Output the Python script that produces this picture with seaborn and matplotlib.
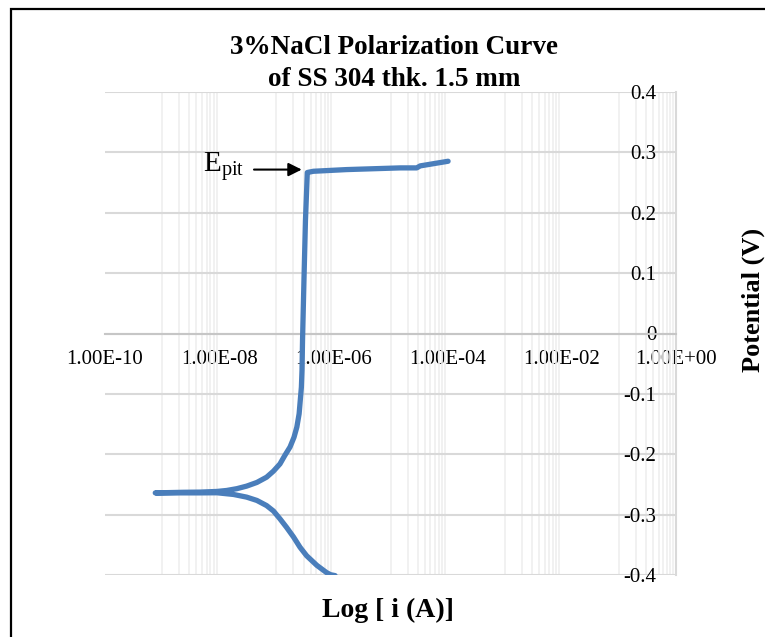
import pandas as pd
import seaborn as sns
import matplotlib.pyplot as plt
from matplotlib.ticker import FixedLocator, FuncFormatter, NullFormatter
from matplotlib.patches import Rectangle

# polarization curve: cathodic branch up to Ecorr, then anodic branch
current = [1.07e-6, 8.90e-7, 7.59e-7, 5.13e-7, 3.39e-7, 2.60e-7, 2.00e-7, 1.51e-7, 1.16e-7,
           8.91e-8, 6.76e-8, 4.57e-8, 3.02e-8, 1.78e-8, 9.12e-9, 4.57e-9, 1.82e-9,
           7.59e-10,
           2.34e-9, 4.57e-9, 9.12e-9, 1.35e-8, 2.04e-8, 3.02e-8, 4.57e-8, 6.76e-8,
           8.91e-8, 1.16e-7, 1.41e-7, 1.74e-7, 2.04e-7, 2.29e-7, 2.51e-7, 2.60e-7,
           2.75e-7, 2.82e-7, 2.88e-7, 3.05e-7, 3.24e-7, 3.49e-7, 3.63e-7, 4.47e-7,
           1.70e-6, 1.48e-5, 2.88e-5, 3.31e-5, 1.02e-4]
potential = [-0.401, -0.3995, -0.396, -0.384, -0.368, -0.354, -0.337, -0.321, -0.307,
             -0.294, -0.285, -0.2765, -0.271, -0.2666, -0.2638, -0.264, -0.264,
             -0.264,
             -0.263, -0.2627, -0.2616, -0.260, -0.257, -0.2528, -0.2467, -0.238,
             -0.228, -0.216, -0.202, -0.188, -0.172, -0.155, -0.133, -0.116,
             -0.089, -0.061, -0.0116, 0.0877, 0.187, 0.2666, 0.267, 0.2687,
             0.2715, 0.2743, 0.2743, 0.2776, 0.2853]

x_ticks = [1e-10, 1e-8, 1e-6, 1e-4, 1e-2, 1e0]
y_ticks = [-0.4, -0.3, -0.2, -0.1, 0.0, 0.1, 0.2, 0.3, 0.4]
minor_decades = [-9, -7, -5, -3, -1]

epit_text_pos = (5.2e-9, 0.268)
epit_arrow_tail = (4.07e-8, 0.2715)
epit_arrow_head = (2.79e-7, 0.2715)

df = pd.DataFrame({'current': current, 'potential': potential})

sns.set_style("white")
plt.rcParams['font.family'] = ['Liberation Serif', 'DejaVu Serif']
plt.rcParams['mathtext.fontset'] = 'custom'
plt.rcParams['mathtext.rm'] = 'Liberation Serif'
plt.rcParams['text.color'] = 'black'
plt.rcParams['axes.labelcolor'] = 'black'
plt.rcParams['xtick.color'] = 'black'
plt.rcParams['ytick.color'] = 'black'

fig = plt.figure(figsize=(7.65, 6.37), dpi=100)
ax = fig.add_axes([105 / 765, 1 - 575 / 637, 571 / 765, 483 / 637])
ax.set_xscale('log')

sns.lineplot(data=df, x='current', y='potential', sort=False, estimator=None,
             color='#4a7ebb', lw=3.8, ax=ax, solid_capstyle='round',
             solid_joinstyle='round', zorder=3)

ax.set_xlim(1e-10, 1)
ax.set_ylim(-0.4, 0.4)

# ticks / grid like the excel chart
ax.xaxis.set_major_locator(FixedLocator(x_ticks))
ax.xaxis.set_major_formatter(FuncFormatter(lambda v, p: f"{v:.2E}"))
ax.xaxis.set_minor_locator(FixedLocator([k * 10.0 ** d for d in minor_decades for k in range(1, 10)]))
ax.xaxis.set_minor_formatter(NullFormatter())
ax.yaxis.set_major_locator(FixedLocator(y_ticks))
ax.yaxis.set_major_formatter(FuncFormatter(lambda v, p: '0' if abs(v) < 1e-9 else f"{v:.1f}"))
ax.tick_params(axis='x', which='both', length=0, labelsize=15, pad=12, labelcolor='black')
ax.tick_params(axis='y', length=0, labelsize=15, pad=14, labelcolor='black')

ax.set_axisbelow(True)
ax.grid(axis='y', which='major', color='#d9d9d9', lw=1.5)
ax.grid(axis='x', which='minor', color='#efefef', lw=1.2)
ax.grid(axis='x', which='major', visible=False)

ax.spines['top'].set_visible(False)
ax.spines['right'].set_visible(False)
ax.spines['bottom'].set_position(('data', 0))
ax.spines['bottom'].set_color('#c6c6c6')
ax.spines['bottom'].set_linewidth(1.5)
ax.spines['left'].set_position(('data', 1.0))
ax.spines['left'].set_color('#d9d9d9')
ax.spines['left'].set_linewidth(1.5)

ax.set_title("3%NaCl Polarization Curve\nof SS 304 thk. 1.5 mm", fontsize=19.5,
             fontweight='bold', pad=4, x=0.506, linespacing=1.4, color='black')
ax.set_xlabel("Log [ i (A)]", fontsize=20, fontweight='bold', va='baseline')
ax.xaxis.set_label_coords(0.4956, -0.0863)
ax.set_ylabel("Potential (V)", fontsize=19, fontweight='bold', va='baseline')
ax.yaxis.set_label_coords(1.147, 0.569)

# E_pit marker
ax.text(*epit_text_pos, r'$\mathregular{E_{pit}}$', fontsize=21, va='baseline', color='black')
ax.annotate('', xy=epit_arrow_head, xytext=epit_arrow_tail,
            arrowprops=dict(arrowstyle='-|>', color='black', lw=1.5,
                            mutation_scale=20, shrinkA=0, shrinkB=0))

# black frame round the chart (cut off on right and bottom)
fig.patches.append(Rectangle((11 / 765, -0.5), 2, 1 - 9 / 637 + 0.5,
                             transform=fig.transFigure, fill=False,
                             ec='black', lw=1.6))

fig.savefig('out.png', dpi=100)
